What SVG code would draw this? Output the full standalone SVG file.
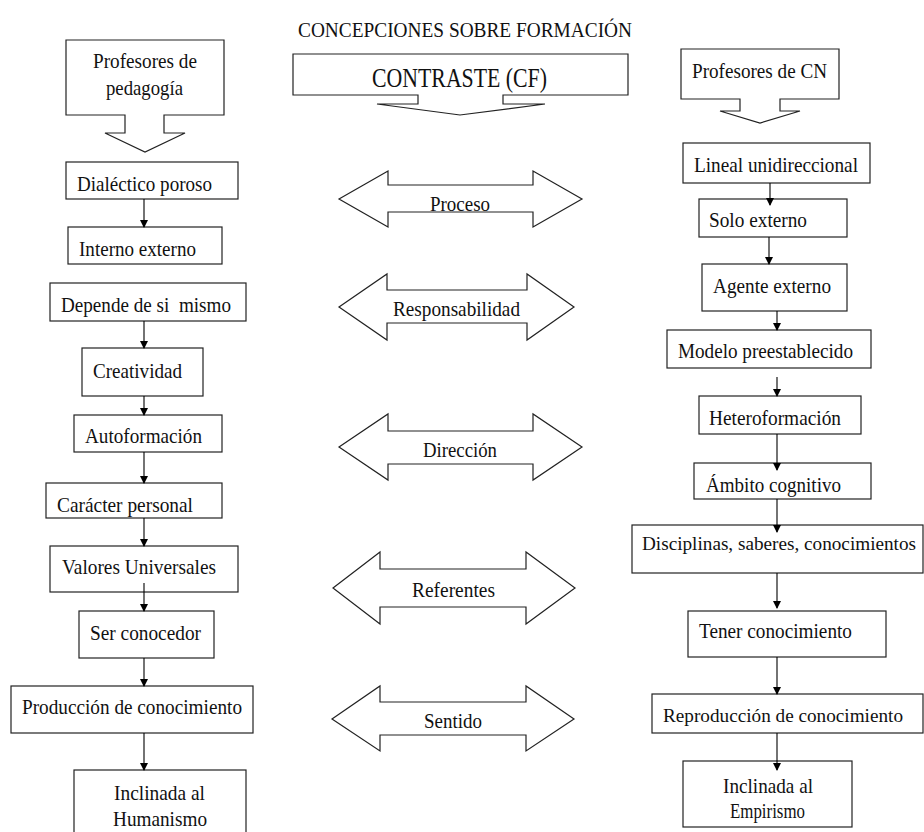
<svg xmlns="http://www.w3.org/2000/svg" width="924" height="832" viewBox="0 0 924 832">
<defs>
<style>
.b{fill:#fff;stroke:#222;stroke-width:1.2}
.c{fill:none;stroke:#000;stroke-width:1.1}
.t text{font-family:"Liberation Serif","DejaVu Serif",serif;font-size:22px;fill:#111}
.t text.n{font-size:19px}
</style>
<marker id="ah" markerUnits="userSpaceOnUse" markerWidth="8" markerHeight="10" refX="7" refY="4" orient="auto" viewBox="0 0 8 8">
<path d="M0,0 L8,4 L0,8 Z" fill="#000"/>
</marker>
</defs>
<rect width="924" height="832" fill="#fff"/>
<g class="t" font-family="Liberation Serif, serif">
<g id="title"><text x="298" y="37" style="font-size:21px" textLength="334" lengthAdjust="spacingAndGlyphs">CONCEPCIONES SOBRE FORMACIÓN</text></g>

<g id="prof-ped">
<path class="b" d="M66,40 H224 V115 H164 V133 H185 L145,152 L105,133 H125 V115 H66 Z"/>
<text x="93" y="68" textLength="104" lengthAdjust="spacingAndGlyphs">Profesores de</text>
<text x="106" y="95" textLength="77" lengthAdjust="spacingAndGlyphs">pedagogía</text>
</g>
<g id="contraste">
<path class="b" d="M293,54 H628 V95 H503 V104 H545 L460,115 L377,104 H418 V95 H293 Z"/>
<text x="372" y="87" style="font-size:27px" textLength="175" lengthAdjust="spacingAndGlyphs">CONTRASTE (CF)</text>
</g>
<g id="prof-cn">
<path class="b" d="M681,49 H839 V99 H780 V111 H800 L760,123 L720,111 H740 V99 H681 Z"/>
<text x="692" y="78" textLength="135" lengthAdjust="spacingAndGlyphs">Profesores de CN</text>
</g>

<g id="l1"><rect class="b" x="66" y="162" width="172" height="37"/><text x="77" y="191" textLength="135" lengthAdjust="spacingAndGlyphs">Dialéctico poroso</text></g>
<g id="l2"><rect class="b" x="68" y="227" width="154" height="37"/><text x="79" y="256" textLength="117" lengthAdjust="spacingAndGlyphs">Interno externo</text></g>
<g id="l3"><rect class="b" x="50" y="283" width="196" height="38"/><text x="61" y="312" textLength="170" lengthAdjust="spacingAndGlyphs" xml:space="preserve">Depende de si  mismo</text></g>
<g id="l4"><rect class="b" x="82" y="348" width="121" height="48"/><text x="93" y="378" textLength="89" lengthAdjust="spacingAndGlyphs">Creatividad</text></g>
<g id="l5"><rect class="b" x="74" y="415" width="148" height="37"/><text x="85" y="443" textLength="117" lengthAdjust="spacingAndGlyphs">Autoformación</text></g>
<g id="l6"><rect class="b" x="46" y="483" width="176" height="35"/><text x="57" y="512" textLength="136" lengthAdjust="spacingAndGlyphs">Carácter personal</text></g>
<g id="l7"><rect class="b" x="50" y="546" width="188" height="46"/><text x="62" y="574" textLength="154" lengthAdjust="spacingAndGlyphs">Valores Universales</text></g>
<g id="l8"><rect class="b" x="79" y="611" width="135" height="47"/><text x="90" y="640" textLength="111" lengthAdjust="spacingAndGlyphs">Ser conocedor</text></g>
<g id="l9"><rect class="b" x="11" y="686" width="242" height="47"/><text x="22" y="714" textLength="220" lengthAdjust="spacingAndGlyphs">Producción de conocimiento</text></g>
<g id="l10"><rect class="b" x="74" y="770" width="172" height="70"/><text x="114" y="800" textLength="91" lengthAdjust="spacingAndGlyphs">Inclinada al</text><text x="113" y="826" textLength="94" lengthAdjust="spacingAndGlyphs">Humanismo</text></g>

<g id="r1"><rect class="b" x="683" y="143" width="187" height="40"/><text x="694" y="172" textLength="164" lengthAdjust="spacingAndGlyphs">Lineal unidireccional</text></g>
<g id="r2"><rect class="b" x="699" y="199" width="148" height="38"/><text x="709" y="227" textLength="98" lengthAdjust="spacingAndGlyphs">Solo externo</text></g>
<g id="r3"><rect class="b" x="702" y="264" width="145" height="47"/><text x="713" y="293" textLength="118" lengthAdjust="spacingAndGlyphs">Agente externo</text></g>
<g id="r4"><rect class="b" x="667" y="330" width="204" height="38"/><text x="678" y="358" textLength="175" lengthAdjust="spacingAndGlyphs">Modelo preestablecido</text></g>
<g id="r5"><rect class="b" x="699" y="396" width="162" height="38"/><text x="709" y="425" textLength="132" lengthAdjust="spacingAndGlyphs">Heteroformación</text></g>
<g id="r6"><rect class="b" x="694" y="463" width="177" height="36"/><text x="706" y="492" textLength="135" lengthAdjust="spacingAndGlyphs">Ámbito cognitivo</text></g>
<g id="r7"><rect class="b" x="632" y="525" width="291" height="48"/><text class="n" x="642" y="550" textLength="274" lengthAdjust="spacingAndGlyphs">Disciplinas, saberes, conocimientos</text></g>
<g id="r8"><rect class="b" x="688" y="611" width="198" height="46"/><text x="699" y="638" textLength="153" lengthAdjust="spacingAndGlyphs">Tener conocimiento</text></g>
<g id="r9"><rect class="b" x="652" y="694" width="271" height="39"/><text class="n" x="663" y="722" textLength="240" lengthAdjust="spacingAndGlyphs">Reproducción de conocimiento</text></g>
<g id="r10"><rect class="b" x="683" y="761" width="169" height="66"/><text x="723" y="793" textLength="90" lengthAdjust="spacingAndGlyphs">Inclinada al</text><text x="730" y="818" textLength="75" lengthAdjust="spacingAndGlyphs">Empirismo</text></g>

<g id="m1"><path class="b" d="M339,199 L388,171 V185 H533 V171 L582,199 L533,227 V212 H388 V227 Z"/><text x="430" y="211" textLength="60" lengthAdjust="spacingAndGlyphs">Proceso</text></g>
<g id="m2"><path class="b" d="M339,307 L387,274 V290 H527 V274 L574,307 L527,340 V323 H387 V340 Z"/><text x="393" y="316" textLength="127" lengthAdjust="spacingAndGlyphs">Responsabilidad</text></g>
<g id="m3"><path class="b" d="M339,447 L388,414 V431 H533 V414 L582,447 L533,480 V464 H388 V480 Z"/><text x="423" y="457" textLength="74" lengthAdjust="spacingAndGlyphs">Dirección</text></g>
<g id="m4"><path class="b" d="M333,588 L380,552 V569 H526 V552 L575,588 L526,624 V607 H380 V624 Z"/><text x="412" y="597" textLength="83" lengthAdjust="spacingAndGlyphs">Referentes</text></g>
<g id="m5"><path class="b" d="M332,719 L380,686 V702 H526 V686 L574,719 L526,751 V735 H380 V751 Z"/><text x="424" y="728" textLength="58" lengthAdjust="spacingAndGlyphs">Sentido</text></g>
</g>

<g id="connectors">
<line class="c" x1="144" y1="199" x2="144" y2="227" marker-end="url(#ah)"/>
<line class="c" x1="144" y1="321" x2="144" y2="348" marker-end="url(#ah)"/>
<line class="c" x1="144" y1="396" x2="144" y2="415" marker-end="url(#ah)"/>
<line class="c" x1="144" y1="452" x2="144" y2="483" marker-end="url(#ah)"/>
<line class="c" x1="144" y1="518" x2="144" y2="546" marker-end="url(#ah)"/>
<line class="c" x1="144" y1="583" x2="144" y2="611" marker-end="url(#ah)"/>
<line class="c" x1="144" y1="658" x2="144" y2="686" marker-end="url(#ah)"/>
<line class="c" x1="144" y1="733" x2="144" y2="770" marker-end="url(#ah)"/>
<line class="c" x1="770" y1="183" x2="770" y2="205" marker-end="url(#ah)"/>
<line class="c" x1="769" y1="237" x2="769" y2="264" marker-end="url(#ah)"/>
<line class="c" x1="777" y1="311" x2="777" y2="330" marker-end="url(#ah)"/>
<line class="c" x1="777" y1="377" x2="777" y2="396" marker-end="url(#ah)"/>
<line class="c" x1="777" y1="434" x2="777" y2="470" marker-end="url(#ah)"/>
<line class="c" x1="777" y1="499" x2="777" y2="532" marker-end="url(#ah)"/>
<line class="c" x1="777" y1="573" x2="777" y2="608" marker-end="url(#ah)"/>
<line class="c" x1="777" y1="657" x2="777" y2="694" marker-end="url(#ah)"/>
<line class="c" x1="777" y1="733" x2="777" y2="770" marker-end="url(#ah)"/>
</g>
</svg>
